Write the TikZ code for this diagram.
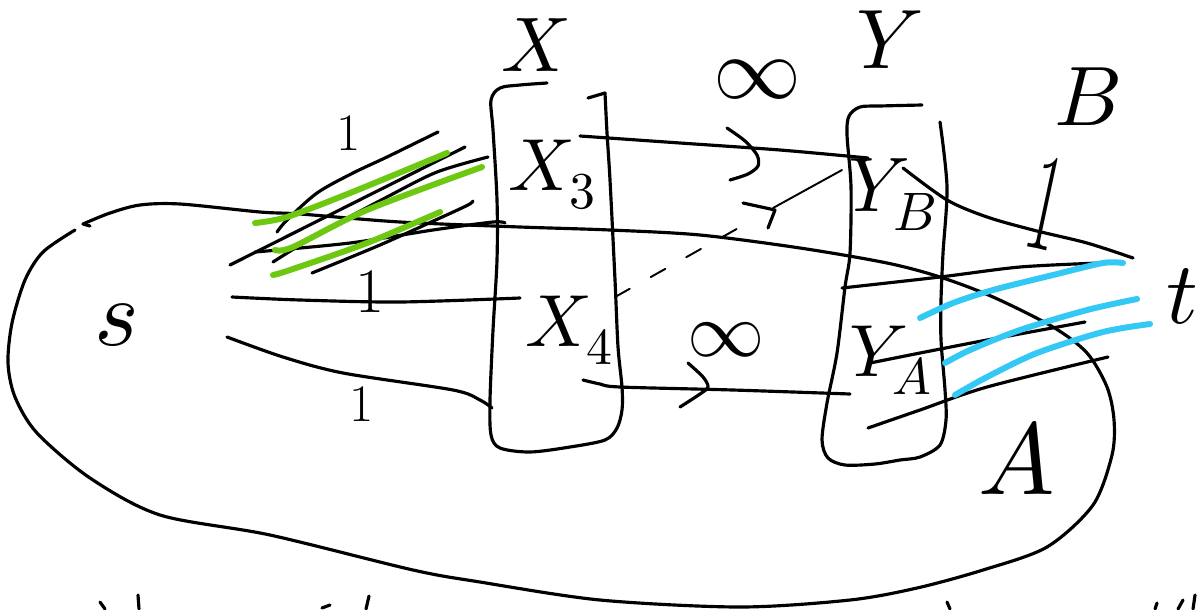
\documentclass[tikz,border=0pt]{standalone}
\usepackage{unicode-math}
\definecolor{hlg}{RGB}{108,200,16}
\definecolor{hlb}{RGB}{52,200,245}
\begin{document}
\begin{tikzpicture}[x=0.01cm,y=-0.01cm,
  ink/.style={line width=0.9pt,line cap=round,line join=round},
  inkthin/.style={line width=0.55pt,line cap=round,line join=round},
  hlgreen/.style={draw=hlg,line width=1.7pt,line cap=round,line join=round},
  hlblue/.style={draw=hlb,line width=1.7pt,line cap=round,line join=round},
  lbl/.style={inner sep=0pt,outer sep=0pt},
  fs/.style={font=\fontsize{#1}{#1}\selectfont}]
\fill[white] (0,0) rectangle (1201,609);
\useasboundingbox (0,0) rectangle (1201,609);

% region A (big loop)
\draw[ink] (90,226) -- (83,224);
\draw[ink] plot[smooth] coordinates {(83,224) (110,213) (140,205) (180,204) (260,212) (300,214) (400,222) (520,227) (610,230) (700,235) (800,248) (887,263) (940,277) (993,297) (1053,327) (1087,353) (1107,387) (1114,420) (1112,455) (1093,505) (1047,547) (983,570) (917,588) (850,600) (740,607) (600,600) (480,582) (413,570) (270,535) (160,515) (90,478) (37,433) (15,397) (8,363) (12,323) (25,280) (43,252) (75,230)};

% box X
\draw[ink] plot[smooth] coordinates {(547,83) (520,85) (500,88) (491,100) (493,130) (497,200) (497,260) (493,330) (490,400) (491,435) (500,448) (530,452) (570,447) (605,440) (617,428) (622,410) (622,387) (618,347) (615,280) (610,180) (607,133) (605,93)};
\draw[ink] (605,93) -- (588,98);

% box Y
\draw[ink] plot[smooth] coordinates {(922,105) (880,106) (860,107) (849,116) (847,135) (851,187) (850,253) (845,287) (837,353) (827,403) (822,440) (828,458) (845,465) (875,464) (900,460) (920,457) (940,445) (946,420) (945,390) (941,340) (941,300) (943,253) (947,187) (940,122)};

% labels
\node[lbl,fs=22] (lX) at (535,45) {$X$};
\node[lbl,fs=24] (lY) at (890,40) {$Y$};
\node[lbl,fs=25] (inf1) at (757,80) {$\infty$};
\node[lbl,fs=22] (inf2) at (726,340) {$\infty$};
\node[lbl,fs=24] (lB) at (1088,97) {$B$};
\node[lbl,fs=21] (x3) at (553,175) {$X_3$};
\node[lbl,fs=21] (x4) at (570,330) {$X_4$};
\node[lbl,fs=22] (yb) at (893,195) {$Y_B$};
\node[lbl,fs=21] (ya) at (891,360) {$Y_A$};
\node[lbl,fs=27] (s) at (117,325) {$s$};
\node[lbl,fs=25] (t) at (1182,296) {$t$};
\node[lbl,fs=29] (lA) at (1017,458) {$A$};
\node[lbl,fs=15] (c1) at (349,133) {1};
\node[lbl,fs=18] (c2) at (370,292) {1};
\node[lbl,fs=15] (c3) at (362,404) {1};
\node[lbl,fs=19,rotate=-12] (c4) at (1046,203) {\scalebox{1}[2.1]{1}};

% X3 -> YB (infinite)
\draw[ink] plot[smooth] coordinates {(580,136) (680,143) (780,150) (868,158)};
\draw[ink] plot[smooth] coordinates {(727,128) (745,141) (757,155) (758,166) (748,174) (730,180)};

% X4 -> YB (dashed)
\draw[inkthin,dash pattern=on 4.8pt off 6.8pt] (615,297) -- (742,226);
\draw[inkthin] (773,208) -- (842,170);
\draw[ink] (743,203) -- (775,210) -- (768,228);

% X4 -> YA (infinite)
\draw[ink] plot[smooth] coordinates {(583,380) (600,384) (620,387) (733,390) (850,394)};
\draw[ink] plot[smooth] coordinates {(688,363) (703,377) (708,387) (700,394) (680,407)};

% edges from s
\draw[ink] plot[smooth] coordinates {(277,232) (287,220) (317,193) (353,173) (387,157) (438,132)};
\draw[ink] (230,265) -- (465,147);
\draw[ink] plot[smooth] coordinates {(273,262) (320,233) (387,197) (437,172) (488,157)};
\draw[ink] plot[smooth] coordinates {(312,273) (380,245) (440,218) (468,205) (473,201)};
\draw[ink] plot[smooth] coordinates {(255,252) (350,243) (433,230) (493,222) (505,223)};
\draw[ink] plot[smooth] coordinates {(232,297) (300,300) (400,302) (520,298)};
\draw[ink] plot[smooth] coordinates {(227,337) (283,357) (343,373) (453,390) (480,400) (492,408)};

% green highlights
\draw[hlgreen] plot[smooth] coordinates {(255,223) (287,217) (350,193) (447,153)};
\draw[hlgreen] plot[smooth] coordinates {(275,250) (293,247) (367,210) (482,167)};
\draw[hlgreen] plot[smooth] coordinates {(273,275) (290,270) (367,243) (440,212)};

% edges to t
\draw[ink] plot[smooth] coordinates {(903,168) (947,200) (987,217) (1033,230) (1087,243) (1133,258)};
\draw[ink] plot[smooth] coordinates {(842,288) (940,277) (1020,267) (1100,263)};
\draw[ink] plot[smooth] coordinates {(870,363) (920,353) (987,340) (1085,322)};
\draw[ink] plot[smooth] coordinates {(868,428) (920,410) (987,387) (1108,357)};

% blue highlights
\draw[hlblue] plot[smooth] coordinates {(920,318) (953,303) (993,290) (1053,275) (1103,263) (1123,263)};
\draw[hlblue] plot[smooth] coordinates {(945,363) (970,350) (1020,330) (1087,310) (1137,299)};
\draw[hlblue] plot[smooth] coordinates {(955,395) (987,377) (1037,353) (1103,332) (1150,324)};

% cut-off writing at the bottom edge
\draw[ink] (100,602) -- (105,609);
\draw[ink] (138,595) -- (139,609);
\draw[ink] (322,608) -- (330,605);
\draw[ink] (369,596) -- (366,609);
\draw[ink] (947,602) -- (950,609);
\draw[ink] (1157,603) -- (1155,609);
\draw[ink] (1183,600) -- (1178,609);
\draw[ink] (1195,595) -- (1193,609);
\end{tikzpicture}
\end{document}
